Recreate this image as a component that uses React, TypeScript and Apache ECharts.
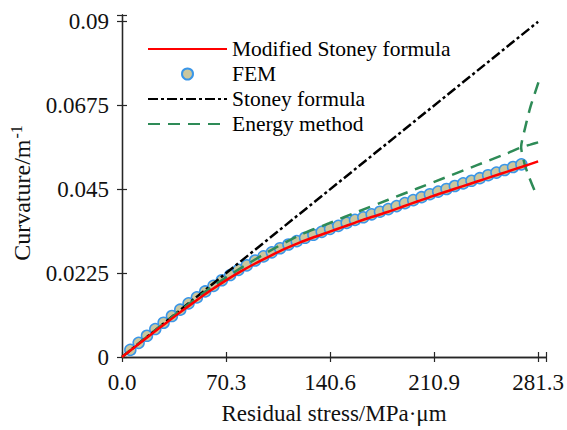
import React, { useEffect, useRef } from "react";
import * as echarts from "echarts";

const X_TICK_STEP = 70.325;
const X_TICK_LABELS = ["0.0", "70.3", "140.6", "210.9", "281.3"];
const Y_TICK_STEP = 0.0225;
const Y_TICK_LABELS = ["0", "0.0225", "0.045", "0.0675", "0.09"];

// Modified Stoney formula
const modX = [0, 10, 20, 30, 40, 50, 60, 70, 80, 90, 100, 110, 120, 130, 140, 150, 160, 170, 180, 190, 200, 210, 220, 230, 240, 250, 260, 270, 281.3];
const modY = [0, 0.0031, 0.0062, 0.0092, 0.0122, 0.0151, 0.0179, 0.0205, 0.0229, 0.0251, 0.0271, 0.029, 0.0307, 0.0322, 0.0336, 0.035, 0.0364, 0.0377, 0.039, 0.0404, 0.0418, 0.0432, 0.0445, 0.0458, 0.0471, 0.0484, 0.0497, 0.051, 0.0525];

// FEM
const femX = [5.625, 11.25, 16.875, 22.5, 28.125, 33.75, 39.375, 45, 50.625, 56.25, 61.875, 67.5, 73.125, 78.75, 84.375, 90, 95.625, 101.25, 106.875, 112.5, 118.125, 123.75, 129.375, 135, 140.625, 146.25, 151.875, 157.5, 163.125, 168.75, 174.375, 180, 185.625, 191.25, 196.875, 202.5, 208.125, 213.75, 219.375, 225, 230.625, 236.25, 241.875, 247.5, 253.125, 258.75, 264.375, 270];
const femY = [0.0019, 0.0038, 0.0057, 0.0075, 0.0092, 0.011, 0.0127, 0.0144, 0.016, 0.0176, 0.0191, 0.0206, 0.022, 0.0234, 0.0246, 0.0259, 0.027, 0.0281, 0.0292, 0.0302, 0.0311, 0.032, 0.0328, 0.0336, 0.0344, 0.0352, 0.036, 0.0368, 0.0375, 0.0383, 0.039, 0.0397, 0.0405, 0.0413, 0.0421, 0.0429, 0.0437, 0.0444, 0.0451, 0.0459, 0.0466, 0.0473, 0.048, 0.0488, 0.0495, 0.0502, 0.051, 0.0517];

// Stoney formula
const stoneyX = [0, 281.3];
const stoneyY = [0, 0.09];

// Energy method (main branch + bifurcation branch)
const energyX = [0, 20, 40, 60, 80, 100, 120, 140, 160, 180, 200, 220, 240, 260, 270, 276, 281.3];
const energyY = [0, 0.0064, 0.0127, 0.0186, 0.0238, 0.0285, 0.0327, 0.0359, 0.0391, 0.0422, 0.0453, 0.0484, 0.0515, 0.0546, 0.0563, 0.057, 0.0576];
const branchX = [281.5, 276, 272.5, 269.8, 272, 275, 279.5];
const branchY = [0.0737, 0.067, 0.0615, 0.0564, 0.052, 0.0485, 0.0441];

const zip = (xs: number[], ys: number[]) => xs.map((x, i) => [x, ys[i]]);

const FONT = "'Liberation Serif', 'Times New Roman', serif";
const AXIS_COLOR = "#262626";

function xLabel(v: number) {
  const i = Math.round(v / X_TICK_STEP);
  if (Math.abs(v - i * X_TICK_STEP) < 0.01 && i < X_TICK_LABELS.length) return X_TICK_LABELS[i];
  return "";
}
function yLabel(v: number) {
  const i = Math.round(v / Y_TICK_STEP);
  if (Math.abs(v - i * Y_TICK_STEP) < 1e-6 && i < Y_TICK_LABELS.length) return Y_TICK_LABELS[i];
  return "";
}

export default function App() {
  const ref = useRef<HTMLDivElement>(null);
  useEffect(() => {
    if (!ref.current) return;
    const chart = echarts.init(ref.current, undefined, { renderer: "svg" });
    const xMin = 0, xMax = 286.7, yMin = 0, yMax = 0.0918;
    const axisLine = { show: true, lineStyle: { color: AXIS_COLOR, width: 1.3 } };
    const axisTick = { show: true, inside: true, length: 5, lineStyle: { color: AXIS_COLOR, width: 1.2 } };
    const hiddenSymbol = { opacity: 0 };
    chart.setOption({
      animation: false,
      backgroundColor: "#ffffff",
      grid: { left: 122, right: 20, top: 15, bottom: 65, containLabel: false },
      legend: {
        orient: "vertical",
        left: 142,
        top: 33,
        itemWidth: 79,
        itemHeight: 11,
        itemGap: 3,
        itemTextGap: 7,
        textStyle: { fontFamily: FONT, fontSize: 21.5, lineHeight: 22, color: "#000" },
        data: [
          { name: "Modified Stoney formula", itemStyle: hiddenSymbol },
          { name: "FEM" },
          { name: "Stoney formula", itemStyle: hiddenSymbol },
          { name: "Energy method", itemStyle: hiddenSymbol },
        ],
      },
      xAxis: [
        {
          type: "value",
          position: "bottom",
          min: xMin,
          max: xMax,
          interval: X_TICK_STEP,
          axisLine,
          axisTick,
          splitLine: { show: false },
          axisLabel: { formatter: xLabel, fontFamily: FONT, fontSize: 23, color: "#111", margin: 14, showMaxLabel: true },
          name: "Residual stress/MPa·μm",
          nameLocation: "middle",
          nameGap: 45,
          nameTextStyle: { fontFamily: FONT, fontSize: 23, color: "#111" },
        },
        {
          type: "value",
          position: "top",
          min: xMin,
          max: xMax,
          interval: X_TICK_STEP,
          axisLine,
          axisTick,
          splitLine: { show: false },
          axisLabel: { show: false },
        },
      ],
      yAxis: [
        {
          type: "value",
          position: "left",
          min: yMin,
          max: yMax,
          interval: Y_TICK_STEP,
          axisLine,
          axisTick,
          splitLine: { show: false },
          axisLabel: { formatter: yLabel, fontFamily: FONT, fontSize: 23, color: "#111", margin: 13 },
          name: "{a|Curvature/m}{s|-1}",
          nameLocation: "middle",
          nameGap: 86,
          nameTextStyle: {
            fontFamily: FONT,
            fontSize: 24,
            color: "#111",
            padding: [0, 14, 0, 0],
            rich: {
              a: { fontFamily: FONT, fontSize: 24, color: "#111" },
              s: { fontFamily: FONT, fontSize: 16, color: "#111", padding: [0, 0, 12, 1] },
            },
          },
        },
        {
          type: "value",
          position: "right",
          min: yMin,
          max: yMax,
          interval: Y_TICK_STEP,
          axisLine,
          axisTick,
          splitLine: { show: false },
          axisLabel: { show: false },
        },
      ],
      series: [
        {
          name: "Stoney formula",
          type: "line",
          data: zip(stoneyX, stoneyY),
          symbol: "none",
          lineStyle: { color: "#000", width: 2.5, type: [10, 3, 3, 3] },
          itemStyle: { color: "#000" },
        },
        {
          name: "Energy method",
          type: "line",
          data: zip(energyX, energyY),
          symbol: "none",
          smooth: 0.2,
          lineStyle: { color: "#2E8B57", width: 2.5, type: [12, 8] },
          itemStyle: { color: "#2E8B57" },
        },
        {
          name: "Energy method",
          type: "line",
          data: zip(branchX, branchY),
          symbol: "none",
          smooth: 0.2,
          lineStyle: { color: "#2E8B57", width: 2.5, type: [12, 8] },
          itemStyle: { color: "#2E8B57" },
        },
        {
          name: "FEM",
          type: "scatter",
          data: zip(femX, femY),
          symbol: "circle",
          symbolSize: 11,
          itemStyle: { color: "#CBC79E", borderColor: "#3A96E8", borderWidth: 1.5, opacity: 1 },
        },
        {
          name: "Modified Stoney formula",
          type: "line",
          data: zip(modX, modY),
          symbol: "none",
          smooth: 0.3,
          lineStyle: { color: "#FF0000", width: 2.5 },
          itemStyle: { color: "#FF0000" },
        },
      ],
    });
    return () => chart.dispose();
  }, []);
  return <div ref={ref} style={{ width: 567, height: 430, position: "absolute", left: 0, top: 0 }} />;
}
